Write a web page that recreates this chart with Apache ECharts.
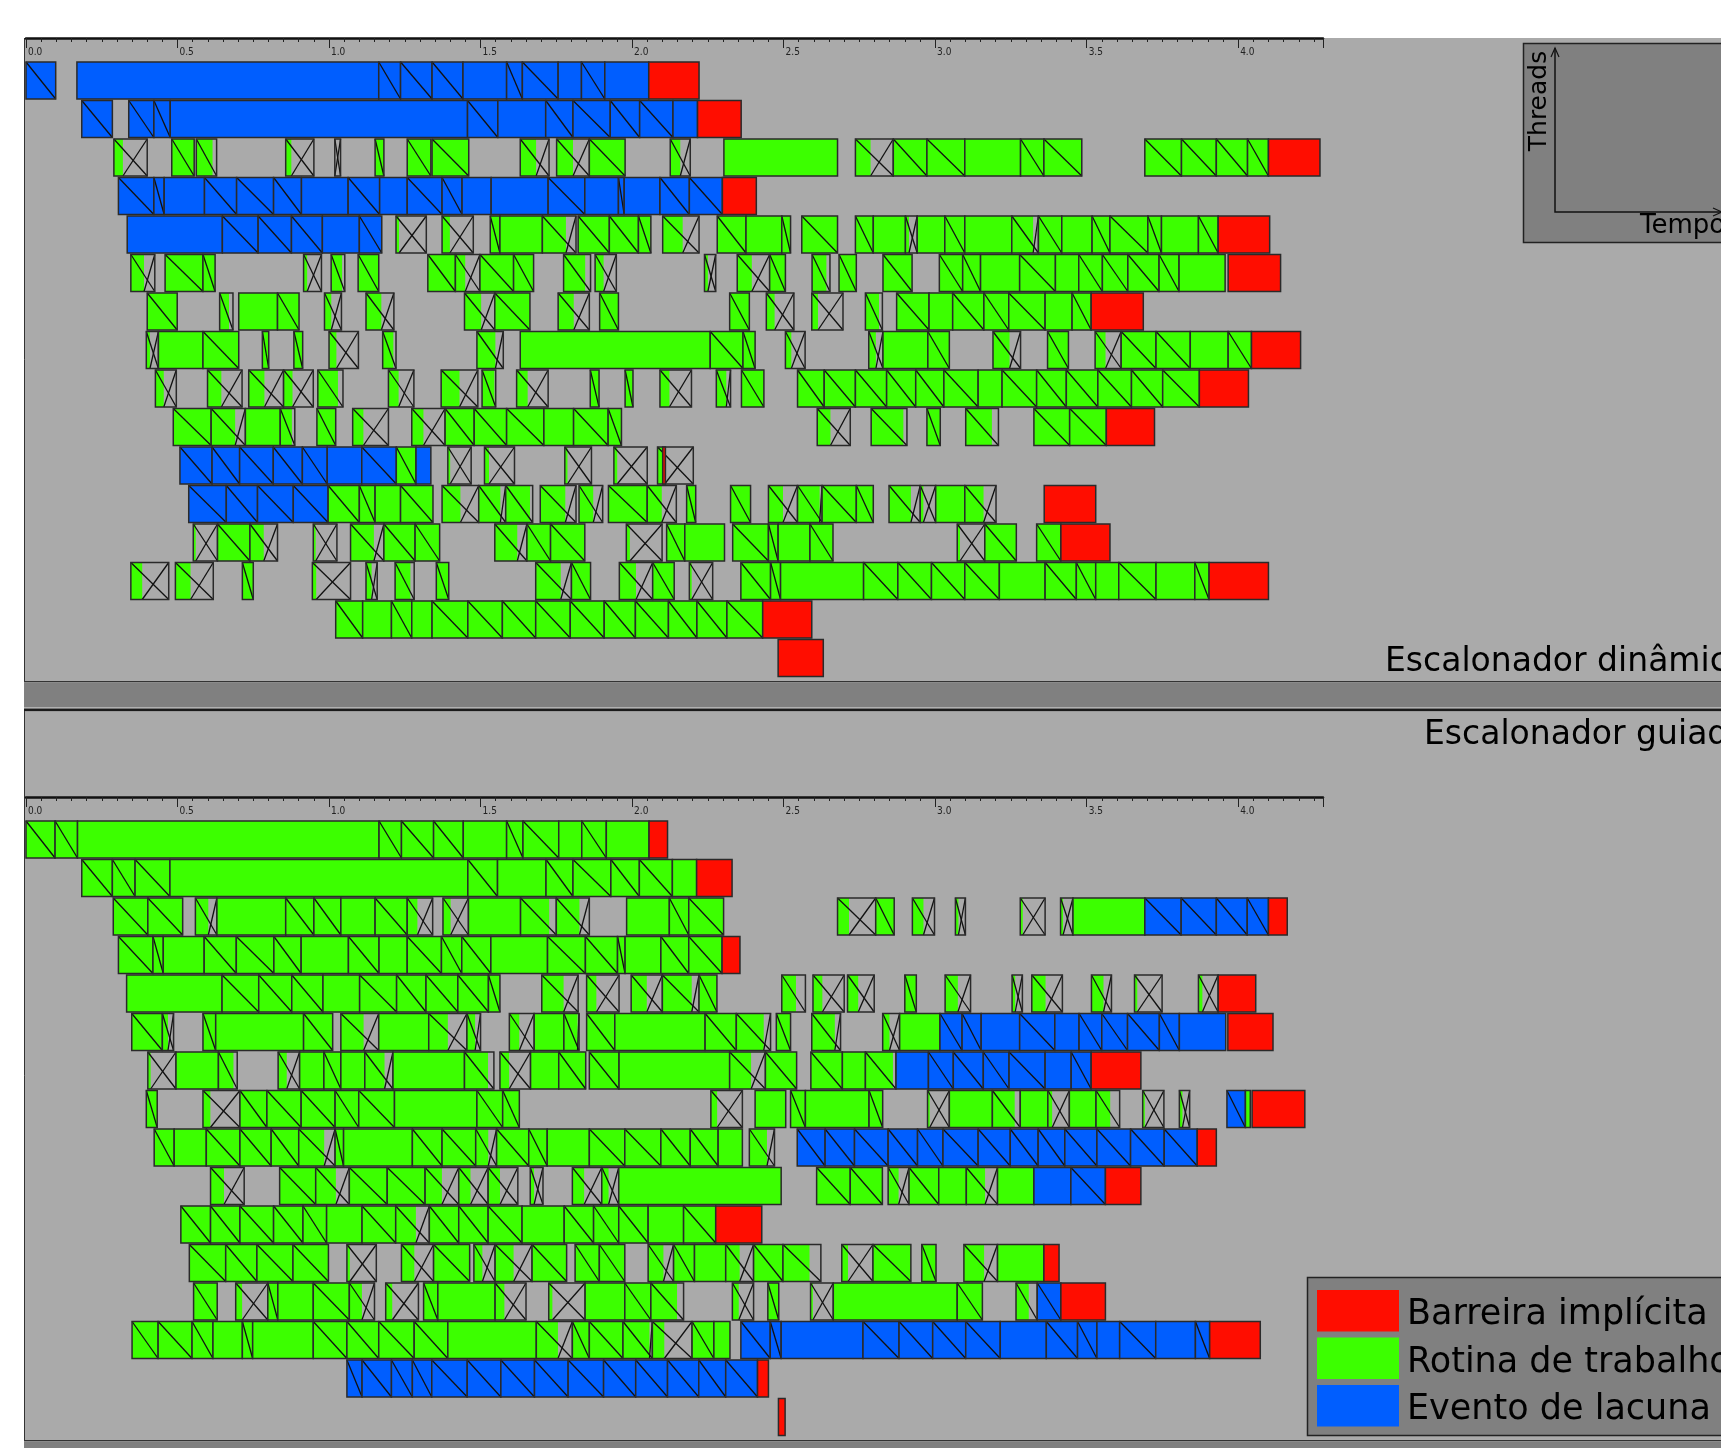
<!DOCTYPE html>
<html lang="pt">
<head>
    <meta charset="UTF-8">
    <title>Escalonadores</title>
    <script src="https://cdn.jsdelivr.net/npm/echarts/dist/echarts.min.js"></script>
</head>
<style>
    body{
        margin: 0;
        padding: 0;
        background: #ffffff;
    }
</style>
<body>
<div id="main" style="width: 1721px;height:1448px;"></div>
<script>
    // cada segmento: [inicio, fim, tipo, marca, fracao colorida]
    // tipo: R barreira, G rotina, B lacuna ; marca: d diagonal, x cruz, n nenhuma
    var dynamicRows = [
        [[0.000,0.098,'B','d'],[0.168,1.164,'B','n'],[1.164,1.236,'B','d'],[1.236,1.340,'B','d'],[1.340,1.442,'B','d'],[1.442,1.586,'B','n'],[1.586,1.638,'B','d'],[1.638,1.756,'B','d'],[1.756,1.833,'B','n'],[1.833,1.910,'B','d'],[1.910,2.055,'B','n'],[2.055,2.221,'R','n']],
        [[0.184,0.285,'B','d'],[0.339,0.422,'B','d'],[0.422,0.476,'B','d'],[0.476,1.457,'B','n'],[1.457,1.557,'B','d'],[1.557,1.715,'B','n'],[1.715,1.805,'B','d'],[1.805,1.928,'B','d'],[1.928,2.025,'B','d'],[2.025,2.135,'B','d'],[2.135,2.216,'B','n'],[2.216,2.360,'R','n']],
        [[0.290,0.400,'G','x',0.27],[0.481,0.555,'G','d'],[0.562,0.629,'G','d',0.8],[0.857,0.950,'G','x',0.2],[1.019,1.038,'G','x',0],[1.152,1.181,'G','d'],[1.258,1.336,'G','d'],[1.340,1.461,'G','d'],[1.631,1.726,'G','x',0.55],[1.751,1.859,'G','x',0.5],[1.859,1.977,'G','d'],[2.126,2.192,'G','x',0.5],[2.303,2.678,'G','n'],[2.737,2.862,'G','x',0.4],[2.862,2.973,'G','d'],[2.973,3.098,'G','d'],[3.098,3.282,'G','n'],[3.282,3.359,'G','d'],[3.359,3.484,'G','d'],[3.692,3.813,'G','d'],[3.813,3.928,'G','d'],[3.928,4.031,'G','d'],[4.031,4.100,'G','d'],[4.100,4.270,'R','n']],
        [[0.305,0.422,'B','d'],[0.422,0.456,'B','d'],[0.456,0.589,'B','n'],[0.589,0.695,'B','d'],[0.695,0.817,'B','d'],[0.817,0.909,'B','d'],[0.909,1.063,'B','n'],[1.063,1.167,'B','d'],[1.167,1.258,'B','n'],[1.258,1.373,'B','d'],[1.373,1.439,'B','d'],[1.439,1.535,'B','n'],[1.535,1.723,'B','n'],[1.723,1.844,'B','d'],[1.844,1.955,'B','n'],[1.955,1.974,'B','d'],[1.974,2.092,'B','n'],[2.092,2.189,'B','d'],[2.189,2.298,'B','d'],[2.298,2.410,'R','n']],
        [[0.334,0.648,'B','n'],[0.648,0.766,'B','d'],[0.766,0.876,'B','d'],[0.876,0.978,'B','d'],[0.978,1.100,'B','n'],[1.100,1.174,'B','d'],[1.221,1.321,'G','x',0.1],[1.373,1.476,'G','x',0.25],[1.532,1.564,'G','d'],[1.564,1.704,'G','n'],[1.704,1.815,'G','x',0.7],[1.822,1.925,'G','d'],[1.925,2.021,'G','d'],[2.021,2.062,'G','d'],[2.101,2.221,'G','x',0.55],[2.281,2.376,'G','d'],[2.376,2.494,'G','n'],[2.494,2.523,'G','d'],[2.560,2.678,'G','d'],[2.737,2.796,'G','d'],[2.796,2.902,'G','n'],[2.902,2.941,'G','x',0.3],[2.941,3.032,'G','n'],[3.032,3.098,'G','d'],[3.098,3.253,'G','n'],[3.253,3.341,'G','x',0.8],[3.341,3.418,'G','d'],[3.418,3.518,'G','n'],[3.518,3.577,'G','d'],[3.577,3.702,'G','d'],[3.702,3.747,'G','d'],[3.747,3.869,'G','n'],[3.869,3.934,'G','d'],[3.934,4.104,'R','n']],
        [[0.346,0.425,'G','x',0.55],[0.459,0.584,'G','d'],[0.584,0.624,'G','d'],[0.916,0.975,'G','x',0.2],[1.007,1.052,'G','d',0.8],[1.096,1.164,'G','d'],[1.326,1.417,'G','d'],[1.417,1.498,'G','x',0.4],[1.498,1.609,'G','d'],[1.609,1.675,'G','d'],[1.774,1.863,'G','d',0.8],[1.878,1.948,'G','x',0.4],[2.239,2.276,'G','x',0.3],[2.347,2.454,'G','x',0.45],[2.454,2.506,'G','d'],[2.594,2.653,'G','d',0.8],[2.683,2.740,'G','d'],[2.828,2.924,'G','d'],[3.014,3.091,'G','d'],[3.091,3.150,'G','d'],[3.150,3.279,'G','n'],[3.279,3.397,'G','d'],[3.397,3.474,'G','n'],[3.474,3.552,'G','d'],[3.552,3.636,'G','d'],[3.636,3.739,'G','d'],[3.739,3.805,'G','d'],[3.805,3.957,'G','n'],[3.967,4.140,'R','n']],
        [[0.400,0.499,'G','d'],[0.639,0.683,'G','d',0.7],[0.702,0.830,'G','n'],[0.830,0.901,'G','d'],[0.985,1.041,'G','x',0.4],[1.122,1.214,'G','x',0.55],[1.447,1.547,'G','x',0.55],[1.547,1.663,'G','d'],[1.756,1.859,'G','x',0.5],[1.893,1.955,'G','d'],[2.322,2.387,'G','d'],[2.443,2.534,'G','x',0.3],[2.593,2.696,'G','x',0.2],[2.770,2.826,'G','d',0.8],[2.873,2.980,'G','d'],[2.980,3.058,'G','n'],[3.058,3.161,'G','d'],[3.161,3.243,'G','d'],[3.243,3.363,'G','d'],[3.363,3.452,'G','n'],[3.452,3.515,'G','d'],[3.515,3.687,'R','n']],
        [[0.397,0.437,'G','x',0.3],[0.437,0.584,'G','n'],[0.584,0.702,'G','d'],[0.780,0.801,'G','d'],[0.884,0.913,'G','d'],[1.000,1.097,'G','x',0.25],[1.177,1.221,'G','d',0.8],[1.488,1.575,'G','x',0.7],[1.631,2.258,'G','n'],[2.258,2.366,'G','d'],[2.366,2.406,'G','d'],[2.506,2.571,'G','x',0.3],[2.781,2.828,'G','x',0.5],[2.828,2.976,'G','n'],[2.976,3.047,'G','d'],[3.191,3.282,'G','x',0.6],[3.371,3.440,'G','d'],[3.528,3.614,'G','x',0.4],[3.614,3.729,'G','d'],[3.729,3.842,'G','d'],[3.842,3.967,'G','n'],[3.967,4.044,'G','d'],[4.044,4.206,'R','n']],
        [[0.427,0.496,'G','x',0.4],[0.599,0.713,'G','x',0.4],[0.735,0.850,'G','x',0.45],[0.850,0.948,'G','x',0.3],[0.963,1.046,'G','d',0.8],[1.196,1.280,'G','x',0.4],[1.370,1.491,'G','x',0.5],[1.505,1.550,'G','d',0.9],[1.619,1.723,'G','x',0.35],[1.862,1.891,'G','d'],[1.977,2.003,'G','d'],[2.092,2.196,'G','x',0.3],[2.278,2.325,'G','x',0.7],[2.361,2.435,'G','d'],[2.546,2.634,'G','d'],[2.634,2.737,'G','d'],[2.737,2.840,'G','d'],[2.840,2.936,'G','d'],[2.936,3.029,'G','d'],[3.029,3.142,'G','d'],[3.142,3.221,'G','n'],[3.221,3.335,'G','d'],[3.335,3.433,'G','d'],[3.433,3.537,'G','d'],[3.537,3.648,'G','d'],[3.648,3.751,'G','d'],[3.751,3.872,'G','d'],[3.872,4.034,'R','n']],
        [[0.486,0.611,'G','d'],[0.611,0.724,'G','x',0.7],[0.724,0.839,'G','n'],[0.839,0.887,'G','d',0.8],[0.960,1.022,'G','d'],[1.078,1.196,'G','x',0.3],[1.273,1.383,'G','x',0.35],[1.383,1.479,'G','d'],[1.479,1.586,'G','d'],[1.586,1.709,'G','d'],[1.709,1.807,'G','n'],[1.807,1.921,'G','d'],[1.921,1.965,'G','d'],[2.611,2.720,'G','x',0.4],[2.789,2.907,'G','d',0.9],[2.973,3.017,'G','d'],[3.101,3.209,'G','d',0.8],[3.326,3.444,'G','d'],[3.444,3.565,'G','d'],[3.565,3.724,'R','n']],
        [[0.508,0.614,'B','d'],[0.614,0.705,'B','d'],[0.705,0.816,'B','d'],[0.816,0.912,'B','d'],[0.912,0.994,'B','d'],[0.994,1.108,'B','n'],[1.108,1.222,'B','d'],[1.222,1.287,'G','d'],[1.287,1.336,'B','n'],[1.392,1.469,'G','x',0.1],[1.513,1.612,'G','x',0.15],[1.778,1.866,'G','x',0.1],[1.940,2.050,'G','x',0.1],[2.084,2.202,'G','x',0.2],[2.101,2.110,'R','n']],
        [[0.537,0.661,'B','d'],[0.661,0.764,'B','d'],[0.764,0.882,'B','d'],[0.882,0.997,'B','d'],[0.997,1.100,'G','d'],[1.100,1.152,'G','d'],[1.152,1.236,'G','n'],[1.236,1.343,'G','d'],[1.373,1.494,'G','x',0.5],[1.494,1.583,'G','x',0.8],[1.583,1.672,'G','d',0.9],[1.697,1.815,'G','x',0.7],[1.825,1.903,'G','x',0.6],[1.922,2.050,'G','d'],[2.050,2.146,'G','x',0.5],[2.180,2.210,'G','d'],[2.325,2.391,'G','d'],[2.450,2.546,'G','x',0.5],[2.546,2.627,'G','x',0.9],[2.627,2.740,'G','d'],[2.740,2.796,'G','d'],[2.848,2.951,'G','x',0.7],[2.951,3.002,'G','x',0.2],[3.002,3.098,'G','n'],[3.098,3.201,'G','x',0.6],[3.360,3.530,'R','n']],
        [[0.552,0.632,'G','x',0.1],[0.632,0.739,'G','d'],[0.739,0.830,'G','x',0.5],[0.948,1.026,'G','x',0.1],[1.071,1.181,'G','x',0.7],[1.181,1.284,'G','d'],[1.284,1.365,'G','d'],[1.547,1.653,'G','x',0.7],[1.653,1.731,'G','d'],[1.731,1.844,'G','d'],[1.981,2.099,'G','x',0.1],[2.114,2.174,'G','d'],[2.174,2.305,'G','n'],[2.332,2.450,'G','d'],[2.450,2.482,'G','d'],[2.482,2.587,'G','n'],[2.587,2.663,'G','d'],[3.073,3.164,'G','x',0.1],[3.164,3.268,'G','d'],[3.335,3.415,'G','d'],[3.415,3.577,'R','n']],
        [[0.346,0.471,'G','x',0.3],[0.493,0.618,'G','x',0.4],[0.714,0.750,'G','d'],[0.945,1.071,'G','x',0.1],[1.122,1.159,'G','x',0.5],[1.218,1.281,'G','d',0.8],[1.354,1.395,'G','d'],[1.682,1.800,'G','x',0.7],[1.800,1.863,'G','d'],[1.958,2.068,'G','x',0.5],[2.068,2.139,'G','d'],[2.189,2.266,'G','x',0.1],[2.359,2.457,'G','d'],[2.457,2.490,'G','d'],[2.490,2.764,'G','n'],[2.764,2.877,'G','d'],[2.877,2.988,'G','d'],[2.988,3.098,'G','d'],[3.098,3.212,'G','d'],[3.212,3.363,'G','n'],[3.363,3.466,'G','d'],[3.466,3.530,'G','d'],[3.530,3.606,'G','n'],[3.606,3.729,'G','d'],[3.729,3.857,'G','n'],[3.857,3.904,'G','d'],[3.904,4.100,'R','n']],
        [[1.022,1.111,'G','d'],[1.111,1.206,'G','n'],[1.206,1.273,'G','d'],[1.273,1.340,'G','n'],[1.340,1.458,'G','d'],[1.458,1.572,'G','d'],[1.572,1.682,'G','d'],[1.682,1.796,'G','d'],[1.796,1.908,'G','d'],[1.908,2.011,'G','d'],[2.011,2.120,'G','d'],[2.120,2.214,'G','d'],[2.214,2.313,'G','d'],[2.313,2.431,'G','d'],[2.431,2.593,'R','n']],
        [[2.482,2.631,'R','n']]
    ];

    var guidedRows = [
        [[0.000,0.096,'G','d'],[0.096,0.170,'G','d'],[0.170,1.165,'G','n'],[1.165,1.239,'G','d'],[1.239,1.345,'G','d'],[1.345,1.443,'G','d'],[1.443,1.586,'G','n'],[1.586,1.640,'G','d'],[1.640,1.758,'G','d'],[1.758,1.834,'G','n'],[1.834,1.915,'G','d'],[1.915,2.056,'G','n'],[2.056,2.117,'R','n']],
        [[0.184,0.285,'G','d'],[0.285,0.360,'G','d'],[0.360,0.475,'G','d'],[0.475,1.458,'G','n'],[1.458,1.556,'G','d'],[1.556,1.716,'G','n'],[1.716,1.805,'G','d'],[1.805,1.930,'G','d'],[1.930,2.024,'G','d'],[2.024,2.133,'G','d'],[2.133,2.213,'G','n'],[2.213,2.330,'R','n']],
        [[0.288,0.402,'G','d'],[0.402,0.517,'G','d'],[0.559,0.630,'G','x',0.6],[0.630,0.857,'G','n'],[0.857,0.950,'G','d'],[0.950,1.039,'G','d'],[1.039,1.152,'G','n'],[1.152,1.258,'G','d'],[1.258,1.342,'G','x',0.4],[1.376,1.460,'G','x',0.3],[1.460,1.632,'G','n'],[1.632,1.750,'G','d',0.8],[1.750,1.859,'G','x',0.7],[1.982,2.123,'G','n'],[2.123,2.187,'G','d'],[2.187,2.302,'G','d'],[2.678,2.804,'G','x',0.3],[2.804,2.865,'G','d'],[2.925,2.998,'G','x',0.5],[3.067,3.100,'G','x',0.3],[3.281,3.363,'G','x',0.1],[3.414,3.455,'G','x',0.2],[3.455,3.692,'G','n'],[3.692,3.812,'B','d'],[3.812,3.928,'B','d'],[3.928,4.030,'B','d'],[4.030,4.100,'B','d'],[4.100,4.162,'R','n']],
        [[0.305,0.419,'G','d'],[0.419,0.453,'G','d'],[0.453,0.588,'G','n'],[0.588,0.694,'G','d'],[0.694,0.818,'G','d'],[0.818,0.908,'G','d'],[0.908,1.064,'G','n'],[1.064,1.165,'G','d'],[1.165,1.258,'G','n'],[1.258,1.371,'G','d'],[1.371,1.438,'G','d'],[1.438,1.534,'G','d'],[1.534,1.721,'G','n'],[1.721,1.846,'G','d'],[1.846,1.952,'G','d'],[1.952,1.977,'G','d'],[1.977,2.095,'G','n'],[2.095,2.187,'G','d'],[2.187,2.297,'G','d'],[2.297,2.356,'R','n']],
        [[0.332,0.647,'G','n'],[0.647,0.768,'G','d'],[0.768,0.877,'G','d'],[0.877,0.980,'G','d'],[0.980,1.101,'G','n'],[1.101,1.223,'G','d'],[1.223,1.320,'G','d'],[1.320,1.425,'G','d'],[1.425,1.526,'G','d'],[1.526,1.564,'G','d'],[1.702,1.822,'G','x',0.6],[1.850,1.957,'G','x',0.3],[1.997,2.100,'G','x',0.5],[2.100,2.221,'G','x',0.8],[2.221,2.280,'G','d'],[2.494,2.572,'G','d',0.6],[2.597,2.700,'G','x',0.3],[2.711,2.799,'G','x',0.4],[2.900,2.938,'G','d'],[3.033,3.117,'G','x',0.5],[3.254,3.288,'G','x',0.3],[3.319,3.420,'G','x',0.45],[3.516,3.582,'G','x',0.6],[3.658,3.749,'G','x',0.1],[3.869,3.934,'G','x',0.2],[3.934,4.058,'R','n']],
        [[0.349,0.450,'G','d'],[0.450,0.487,'G','x',0.5],[0.584,0.626,'G','d'],[0.626,0.916,'G','n'],[0.916,1.012,'G','d'],[1.039,1.164,'G','x',0.6],[1.164,1.329,'G','n'],[1.329,1.455,'G','x',0.5],[1.455,1.500,'G','x',0.6],[1.595,1.677,'G','x',0.4],[1.677,1.775,'G','n'],[1.775,1.825,'G','x',0.9],[1.850,1.943,'G','d'],[1.943,2.241,'G','n'],[2.241,2.344,'G','d'],[2.344,2.457,'G','x',0.8],[2.476,2.523,'G','d'],[2.593,2.688,'G','x',0.8],[2.827,2.883,'G','x',0.4],[2.883,3.016,'G','n'],[3.016,3.089,'B','d'],[3.089,3.152,'B','d'],[3.152,3.279,'B','n'],[3.279,3.395,'B','d'],[3.395,3.475,'B','n'],[3.475,3.550,'B','d'],[3.550,3.635,'B','d'],[3.635,3.740,'B','d'],[3.740,3.806,'B','d'],[3.806,3.959,'B','n'],[3.966,4.115,'R','n']],
        [[0.402,0.495,'G','x',0.1],[0.495,0.635,'G','n'],[0.635,0.697,'G','d',0.8],[0.832,0.903,'G','x',0.4],[0.903,0.983,'G','n'],[0.983,1.039,'G','d'],[1.039,1.118,'G','n'],[1.118,1.211,'G','x',0.7],[1.211,1.447,'G','n'],[1.447,1.544,'G','d',0.8],[1.564,1.665,'G','x',0.3],[1.665,1.758,'G','n'],[1.758,1.847,'G','d'],[1.859,1.957,'G','d'],[1.957,2.322,'G','n'],[2.322,2.440,'G','x',0.6],[2.440,2.543,'G','d'],[2.590,2.694,'G','d'],[2.694,2.770,'G','n'],[2.770,2.871,'G','d',0.9],[2.871,2.978,'B','n'],[2.978,3.060,'B','d'],[3.060,3.159,'B','d'],[3.159,3.244,'B','d'],[3.244,3.363,'B','d'],[3.363,3.449,'B','n'],[3.449,3.515,'B','d'],[3.515,3.679,'R','n']],
        [[0.397,0.433,'G','d'],[0.584,0.706,'G','x',0.2],[0.706,0.795,'G','d'],[0.795,0.908,'G','d'],[0.908,1.020,'G','d'],[1.020,1.098,'G','d'],[1.098,1.216,'G','d'],[1.216,1.488,'G','n'],[1.488,1.573,'G','d'],[1.573,1.628,'G','d'],[2.260,2.364,'G','x',0.2],[2.406,2.507,'G','n'],[2.523,2.572,'G','d'],[2.572,2.782,'G','n'],[2.782,2.827,'G','d'],[2.975,3.047,'G','x',0.1],[3.047,3.189,'G','n'],[3.189,3.281,'G','d',0.8],[3.281,3.372,'G','n'],[3.372,3.443,'G','x',0.2],[3.443,3.531,'G','n'],[3.531,3.609,'G','d',0.6],[3.685,3.755,'G','x',0.1],[3.806,3.840,'G','x',0.3],[3.963,4.024,'B','d'],[4.024,4.040,'G','n'],[4.046,4.220,'R','n']],
        [[0.423,0.489,'G','d'],[0.489,0.595,'G','n'],[0.595,0.706,'G','d'],[0.706,0.809,'G','d'],[0.809,0.900,'G','d'],[0.900,1.020,'G','x',0.7],[1.020,1.048,'G','d'],[1.048,1.275,'G','n'],[1.275,1.373,'G','d'],[1.373,1.484,'G','d'],[1.484,1.553,'G','x',0.6],[1.553,1.659,'G','d'],[1.659,1.720,'G','d'],[1.720,1.859,'G','n'],[1.859,1.976,'G','d'],[1.976,2.095,'G','d'],[2.095,2.192,'G','d'],[2.192,2.284,'G','d'],[2.284,2.364,'G','n'],[2.387,2.470,'G','x',0.7],[2.545,2.637,'B','d'],[2.637,2.734,'B','d'],[2.734,2.845,'B','d'],[2.845,2.942,'B','d'],[2.942,3.026,'B','d'],[3.026,3.142,'B','d'],[3.142,3.248,'B','d'],[3.248,3.340,'B','d'],[3.340,3.428,'B','d'],[3.428,3.534,'B','d'],[3.534,3.645,'B','d'],[3.645,3.756,'B','d'],[3.756,3.865,'B','d'],[3.865,3.928,'R','n']],
        [[0.609,0.720,'G','x',0.4],[0.837,0.956,'G','d'],[0.956,1.067,'G','x',0.6],[1.067,1.192,'G','d'],[1.192,1.317,'G','d'],[1.317,1.428,'G','x',0.5],[1.428,1.525,'G','x',0.4],[1.525,1.623,'G','x',0.4],[1.664,1.706,'G','x',0.3],[1.803,1.900,'G','x',0.4],[1.900,1.956,'G','x',0.4],[1.956,2.492,'G','n'],[2.609,2.720,'G','d'],[2.720,2.826,'G','d'],[2.845,2.914,'G','x',0.5],[2.914,3.012,'G','d'],[3.012,3.103,'G','n'],[3.103,3.206,'G','x',0.6],[3.206,3.326,'G','n'],[3.326,3.448,'B','n'],[3.448,3.562,'B','d'],[3.562,3.679,'R','n']],
        [[0.511,0.609,'G','d'],[0.609,0.706,'G','d'],[0.706,0.817,'G','d'],[0.817,0.914,'G','d'],[0.914,0.992,'G','d'],[0.992,1.109,'G','n'],[1.109,1.220,'G','d'],[1.220,1.331,'G','x',0.6],[1.331,1.428,'G','d'],[1.428,1.525,'G','d'],[1.525,1.637,'G','d'],[1.637,1.776,'G','n'],[1.776,1.873,'G','d'],[1.873,1.956,'G','d'],[1.956,2.053,'G','d'],[2.053,2.170,'G','n'],[2.170,2.276,'G','d'],[2.276,2.428,'R','n']],
        [[0.539,0.659,'G','d'],[0.659,0.762,'G','d'],[0.762,0.881,'G','d'],[0.881,0.998,'G','d'],[1.059,1.156,'G','x',0.1],[1.239,1.345,'G','x',0.4],[1.345,1.464,'G','d'],[1.478,1.548,'G','x',0.4],[1.548,1.670,'G','x',0.5],[1.670,1.784,'G','d'],[1.812,1.892,'G','d'],[1.892,1.976,'G','d'],[2.053,2.137,'G','x',0.6],[2.137,2.206,'G','d'],[2.206,2.309,'G','n'],[2.309,2.401,'G','x',0.5],[2.401,2.498,'G','d'],[2.498,2.623,'G','d',0.7],[2.692,2.795,'G','x',0.2],[2.795,2.920,'G','d'],[2.956,3.003,'G','d'],[3.095,3.206,'G','x',0.6],[3.206,3.359,'G','n'],[3.359,3.409,'R','n']],
        [[0.553,0.631,'G','d'],[0.692,0.798,'G','x',0.2],[0.798,0.831,'G','d'],[0.831,0.948,'G','n'],[0.948,1.067,'G','d'],[1.067,1.150,'G','x',0.5],[1.187,1.295,'G','x',0.2],[1.312,1.359,'G','d'],[1.359,1.548,'G','n'],[1.548,1.650,'G','x',0.3],[1.725,1.845,'G','x',0.1],[1.845,1.976,'G','n'],[1.976,2.062,'G','d'],[2.062,2.170,'G','d',0.8],[2.331,2.401,'G','x',0.3],[2.448,2.484,'G','d'],[2.589,2.664,'G','x',0.1],[2.664,3.073,'G','n'],[3.073,3.156,'G','d'],[3.267,3.337,'G','d',0.6],[3.337,3.415,'B','d'],[3.415,3.562,'R','n']],
        [[0.350,0.436,'G','d'],[0.436,0.548,'G','d'],[0.548,0.617,'G','d'],[0.617,0.714,'G','n'],[0.714,0.748,'G','d'],[0.748,0.948,'G','n'],[0.948,1.059,'G','d'],[1.059,1.164,'G','d'],[1.164,1.281,'G','d'],[1.281,1.392,'G','d'],[1.392,1.684,'G','n'],[1.684,1.803,'G','x',0.6],[1.803,1.859,'G','d'],[1.859,1.970,'G','d'],[1.970,2.067,'G','x',0.9],[2.067,2.198,'G','x',0.3],[2.198,2.270,'G','d'],[2.270,2.323,'G','n'],[2.359,2.456,'B','d'],[2.456,2.492,'B','d'],[2.492,2.762,'B','n'],[2.762,2.881,'B','d'],[2.881,2.992,'B','d'],[2.992,3.101,'B','d'],[3.101,3.215,'B','d'],[3.215,3.367,'B','n'],[3.367,3.470,'B','d'],[3.470,3.534,'B','d'],[3.534,3.609,'B','n'],[3.609,3.728,'B','d'],[3.728,3.859,'B','n'],[3.859,3.906,'B','d'],[3.906,4.073,'R','n']],
        [[1.059,1.109,'B','d'],[1.109,1.206,'B','d'],[1.206,1.275,'B','d'],[1.275,1.339,'B','d'],[1.339,1.456,'B','d'],[1.456,1.567,'B','d'],[1.567,1.678,'B','d'],[1.678,1.789,'B','d'],[1.789,1.906,'B','d'],[1.906,2.012,'B','d'],[2.012,2.117,'B','d'],[2.117,2.220,'B','d'],[2.220,2.309,'B','d'],[2.309,2.414,'B','d'],[2.414,2.450,'R','n']],
        [[2.483,2.505,'R','n']]
    ];

    var panelTitles = ['Escalonador dinâmico', 'Escalonador guiado'];
    var legendNames = ['Barreira implícita', 'Rotina de trabalho', 'Evento de lacuna'];
    var kindColors = ['#ff0d00', '#3cff00', '#005eff'];   // R, G, B
    var tickStep = 0.5;
    var axisMax = 4.28;

    var rowNames = [];
    for (var r = 0; r < 16; r++) rowNames.push(String(r));

    function toData(rows) {
        var out = [];
        for (var i = 0; i < rows.length; i++) {
            for (var j = 0; j < rows[i].length; j++) {
                var s = rows[i][j];
                out.push([s[0], s[1], i, 'RGB'.indexOf(s[2]), 'ndx'.indexOf(s[3]), s.length > 4 ? s[4] : 1]);
            }
        }
        return out;
    }

    function renderSeg(params, api) {
        var a = api.coord([api.value(0), api.value(2)]);
        var b = api.coord([api.value(1), api.value(2)]);
        var h = api.size([0, 1])[1] - 1.5;
        var x0 = a[0], x1 = b[0], w = x1 - x0;
        var y0 = a[1] - h / 2, y1 = y0 + h;
        var fill = api.value(5), mark = api.value(4);
        var kids = [];
        if (fill > 0) {
            kids.push({type: 'rect', shape: {x: x0, y: y0, width: w * fill, height: h},
                style: {fill: kindColors[api.value(3)]}});
        }
        var ls = {stroke: '#111', lineWidth: 1.3};
        if (mark >= 1) {
            kids.push({type: 'line', shape: {x1: x0, y1: y0, x2: x1, y2: y1}, style: ls});
        }
        if (mark === 2) {
            kids.push({type: 'line', shape: {x1: x0 + w * fill, y1: y1, x2: x1, y2: y0}, style: ls});
        }
        kids.push({type: 'rect', shape: {x: x0, y: y0, width: w, height: h},
            style: {fill: 'none', stroke: '#2a2a2a', lineWidth: 1.5}});
        return {type: 'group', children: kids};
    }

    function timeAxis(idx) {
        return {
            type: 'value', gridIndex: idx, position: 'top', offset: 23.25,
            min: 0, max: axisMax, interval: tickStep,
            axisLine: {show: true, lineStyle: {color: '#111', width: 2.5}},
            axisTick: {show: true, inside: true, length: 10, lineStyle: {color: '#222', width: 1}},
            minorTick: {show: true, splitNumber: 10, length: 4, lineStyle: {color: '#222', width: 1}},
            splitLine: {show: false},
            axisLabel: {
                inside: true, margin: 9, align: 'left', padding: [0, 0, 0, 2],
                fontSize: 10, color: '#222', fontFamily: 'DejaVu Sans Condensed, DejaVu Sans',
                showMaxLabel: false,
                formatter: function (v) { return v.toFixed(1); }
            }
        };
    }

    function rowAxis(idx) {
        return {type: 'category', gridIndex: idx, data: rowNames, inverse: true, show: false};
    }

    var graphics = [
        // fundos dos dois paineis
        {type: 'rect', z: -10, shape: {x: 24, y: 38, width: 1700, height: 643}, style: {fill: '#aaaaaa'}},
        {type: 'line', z: -9, shape: {x1: 24.5, y1: 38, x2: 24.5, y2: 681}, style: {stroke: '#333', lineWidth: 1}},
        {type: 'rect', z: -10, shape: {x: 24, y: 681, width: 1700, height: 1.5}, style: {fill: '#333'}},
        {type: 'rect', z: -10, shape: {x: 24, y: 682.5, width: 1700, height: 25}, style: {fill: '#808080'}},
        {type: 'rect', z: -10, shape: {x: 24, y: 707.5, width: 1700, height: 1}, style: {fill: '#a4a4a4'}},
        {type: 'rect', z: -10, shape: {x: 24, y: 708.5, width: 1700, height: 3}, style: {fill: '#1a1a1a'}},
        {type: 'rect', z: -10, shape: {x: 24, y: 711.5, width: 1700, height: 728.5}, style: {fill: '#aaaaaa'}},
        {type: 'line', z: -9, shape: {x1: 24.5, y1: 711, x2: 24.5, y2: 1440}, style: {stroke: '#333', lineWidth: 1}},
        {type: 'rect', z: -10, shape: {x: 24, y: 1440, width: 1700, height: 1.5}, style: {fill: '#333'}},
        {type: 'rect', z: -10, shape: {x: 24, y: 1441.5, width: 1700, height: 7}, style: {fill: '#808080'}},
        // titulos
        {type: 'text', z: 50, x: 1385, y: 662, style: {text: panelTitles[0], fontSize: 33, fontFamily: 'DejaVu Sans', fill: '#000', verticalAlign: 'middle'}},
        {type: 'text', z: 50, x: 1424, y: 735, style: {text: panelTitles[1], fontSize: 33, fontFamily: 'DejaVu Sans', fill: '#000', verticalAlign: 'middle'}},
        // quadro Threads x Tempo
        {type: 'rect', z: 50, shape: {x: 1523.5, y: 43.5, width: 260, height: 199}, style: {fill: '#808080', stroke: '#222', lineWidth: 1.5}},
        {type: 'polyline', z: 51, shape: {points: [[1555, 48], [1555, 212], [1730, 212]]}, style: {fill: 'none', stroke: '#111', lineWidth: 1.5}},
        {type: 'polyline', z: 51, shape: {points: [[1551, 57], [1555, 48], [1559, 57]]}, style: {fill: 'none', stroke: '#111', lineWidth: 1.2}},
        {type: 'polyline', z: 51, shape: {points: [[1713, 208], [1722, 212], [1713, 216]]}, style: {fill: 'none', stroke: '#111', lineWidth: 1.2}},
        {type: 'text', z: 52, x: 1539, y: 101, rotation: Math.PI / 2, style: {text: 'Threads', fontSize: 25, fontFamily: 'DejaVu Sans', fill: '#000', align: 'center', verticalAlign: 'middle'}},
        {type: 'text', z: 52, x: 1640, y: 226, style: {text: 'Tempo', fontSize: 26, fontFamily: 'DejaVu Sans', fill: '#000', verticalAlign: 'middle'}},
        // legenda
        {type: 'rect', z: 50, shape: {x: 1307.5, y: 1277.5, width: 460, height: 158}, style: {fill: '#808080', stroke: '#222', lineWidth: 1.5}}
    ];
    var legendY = [1290, 1337.5, 1385];
    for (var k = 0; k < 3; k++) {
        graphics.push({type: 'rect', z: 51, shape: {x: 1317, y: legendY[k], width: 82, height: 41.5}, style: {fill: kindColors[k]}});
        graphics.push({type: 'text', z: 51, x: 1407, y: legendY[k] + 25, style: {text: legendNames[k], fontSize: 35, fontFamily: 'DejaVu Sans', fill: '#000', verticalAlign: 'middle'}});
    }

    var chart = echarts.init(document.getElementById('main'));
    var option = {
        animation: false,
        grid: [
            {left: 26, right: 398, top: 61.25, height: 616},
            {left: 26, right: 398, top: 820.25, height: 616}
        ],
        xAxis: [timeAxis(0), timeAxis(1)],
        yAxis: [rowAxis(0), rowAxis(1)],
        series: [
            {type: 'custom', xAxisIndex: 0, yAxisIndex: 0, renderItem: renderSeg, encode: {x: [0, 1], y: 2}, data: toData(dynamicRows)},
            {type: 'custom', xAxisIndex: 1, yAxisIndex: 1, renderItem: renderSeg, encode: {x: [0, 1], y: 2}, data: toData(guidedRows)}
        ],
        graphic: graphics
    };
    chart.setOption(option);
</script>
</body>
</html>
